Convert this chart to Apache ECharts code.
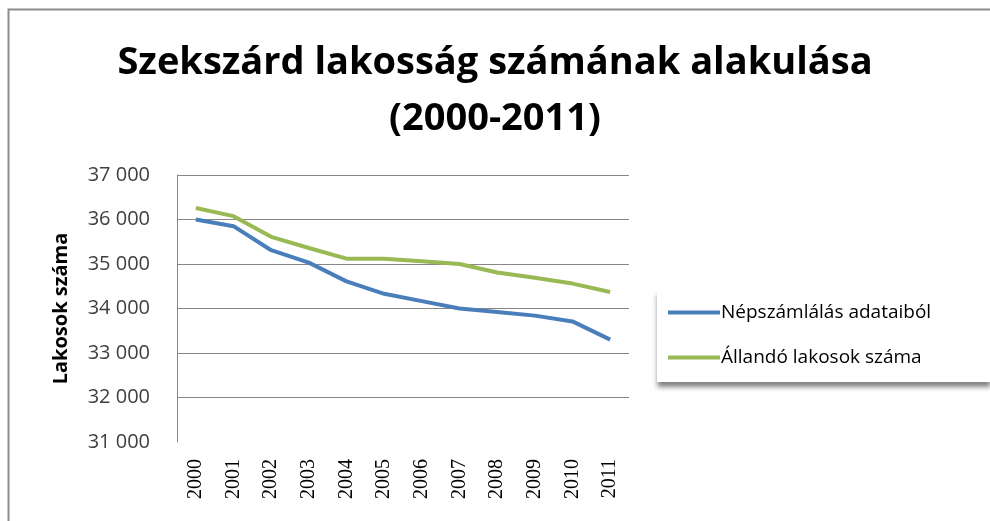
<!DOCTYPE html>
<html>
<head>
<meta charset="utf-8">
<script src="https://cdn.jsdelivr.net/npm/echarts@6/dist/echarts.min.js"></script>
<style>
  html, body { margin: 0; padding: 0; background: #fff; }
  #chart { width: 990px; height: 521px; }
</style>
</head>
<body>
<div id="chart"></div>
<script>
// évek + két adatsor
var years = ['2000', '2001', '2002', '2003', '2004', '2005', '2006', '2007', '2008', '2009', '2010', '2011'];
var nepszamlalas = [36000, 35850, 35310, 35030, 34610, 34330, 34165, 34000, 33920, 33840, 33710, 33300];
var allando = [36260, 36075, 35610, 35360, 35120, 35120, 35060, 35000, 34810, 34690, 34560, 34370];
var seriesNames = ['Népszámlálás adataiból', 'Állandó lakosok száma'];

var chart = echarts.init(document.getElementById('chart'));

var option = {
  backgroundColor: '#fff',
  animation: false,
  title: {
    text: 'Szekszárd lakosság számának alakulása\n(2000-2011)',
    left: 'center',
    top: 30,
    textStyle: {
      fontFamily: 'Open Sans',
      fontWeight: 'bold',
      fontSize: 38,
      lineHeight: 56,
      color: '#000'
    }
  },
  graphic: [{
    type: 'rect',
    shape: { x: 8.5, y: 9.5, width: 1000, height: 600 },
    style: { fill: 'none', stroke: '#8c8c8c', lineWidth: 2 }
  }],
  legend: {
    orient: 'vertical',
    left: 657,
    top: 290,
    width: 340,
    padding: [13, 60, 15, 11],
    itemGap: 26,
    itemWidth: 52,
    itemHeight: 4,
    backgroundColor: '#fff',
    shadowColor: 'rgba(0,0,0,0.5)',
    shadowBlur: 5,
    shadowOffsetY: 5,
    icon: 'rect',
    data: seriesNames,
    textStyle: {
      fontFamily: 'Open Sans',
      fontSize: 19,
      color: '#000',
      padding: [0, 0, 0, -4]
    }
  },
  grid: {
    left: 177,
    right: 361,
    top: 175,
    bottom: 79
  },
  xAxis: {
    type: 'category',
    data: years,
    boundaryGap: true,
    axisLine: { show: false },
    axisTick: { show: false },
    axisLabel: {
      rotate: 90,
      margin: 17,
      fontFamily: 'Liberation Serif',
      fontSize: 20,
      color: '#000'
    }
  },
  yAxis: {
    type: 'value',
    min: 31000,
    max: 37000,
    interval: 1000,
    name: 'Lakosok száma',
    nameLocation: 'middle',
    nameGap: 106,
    nameTextStyle: {
      fontFamily: 'Open Sans',
      fontWeight: 'bold',
      fontSize: 20,
      color: '#000'
    },
    axisLine: { show: true, lineStyle: { color: '#868686', width: 1 } },
    axisTick: { show: false },
    axisLabel: {
      margin: 27,
      fontFamily: 'Open Sans',
      fontSize: 20,
      color: '#404040',
      formatter: function (v) {
        return String(v).replace(/\B(?=(\d{3})+(?!\d))/g, ' ');
      }
    },
    splitLine: {
      show: true,
      lineStyle: {
        color: ['rgba(0,0,0,0)', '#868686', '#868686', '#868686', '#868686', '#868686', '#868686'],
        width: 1
      }
    }
  },
  series: [
    {
      name: seriesNames[0],
      type: 'line',
      data: nepszamlalas,
      symbol: 'none',
      lineStyle: { color: '#4a7ebb', width: 4 },
      itemStyle: { color: '#4a7ebb' }
    },
    {
      name: seriesNames[1],
      type: 'line',
      data: allando,
      symbol: 'none',
      lineStyle: { color: '#98b954', width: 4 },
      itemStyle: { color: '#98b954' }
    }
  ]
};

chart.setOption(option);
</script>
</body>
</html>
